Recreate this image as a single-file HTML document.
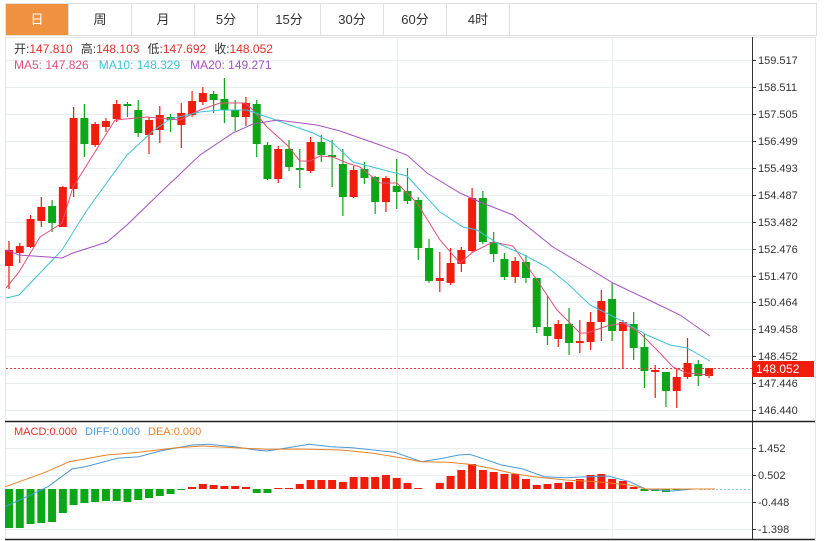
<!DOCTYPE html>
<html><head><meta charset="utf-8"><style>
body{margin:0;background:#fff;width:828px;height:541px;overflow:hidden;font-family:"Liberation Sans","Noto Sans CJK SC",sans-serif}
#tabs{position:absolute;left:5px;top:3px;height:32px;display:flex}
#tabs div{width:62px;height:31px;border:1px solid #e0e0e0;border-left:none;text-align:center;line-height:31px;font-size:13px;color:#333}
#tabs div:first-child{border-left:1px solid #e0e0e0;background:#f0913f;color:#fff;width:62px}
svg{position:absolute;left:0;top:0}
</style></head><body>
<div id="tabs"><div>日</div><div>周</div><div>月</div><div>5分</div><div>15分</div><div>30分</div><div>60分</div><div>4时</div><div style="width:306px"></div></div>
<svg id="s" width="828" height="541" xmlns="http://www.w3.org/2000/svg" font-family="Liberation Sans, Noto Sans CJK SC, sans-serif"></svg>
<script>
const s=document.getElementById('s');let h='';
h+='<line x1="5.5" y1="37" x2="5.5" y2="540" stroke="#e6e6e6"/>';
h+='<line x1="5" y1="37.5" x2="815" y2="37.5" stroke="#e6e6e6"/>';
h+='<line x1="815.5" y1="37" x2="815.5" y2="540" stroke="#e6e6e6"/>';
[397,612].forEach(x=>h+=`<line x1="${x}.5" y1="38" x2="${x}.5" y2="539" stroke="#e8eef2"/>`);
const pl=[[60,'159.517'],[87,'158.511'],[114,'157.505'],[141,'156.499'],[168,'155.493'],[195,'154.487'],[222,'153.482'],[249,'152.476'],[276,'151.470'],[302,'150.464'],[329,'149.458'],[356,'148.452'],[383,'147.446'],[410,'146.440']];
pl.forEach(([y,t])=>{h+=`<line x1="6" y1="${y}.5" x2="752" y2="${y}.5" stroke="#e8eef2"/><line x1="752" y1="${y}.5" x2="756" y2="${y}.5" stroke="#333"/><text x="758" y="${y+4}" font-size="11" fill="#333">${t}</text>`});
const ml=[[448,'1.452'],[475,'0.502'],[502,'-0.448'],[529,'-1.398']];
ml.forEach(([y,t])=>{h+=`<line x1="6" y1="${y}.5" x2="752" y2="${y}.5" stroke="#e8eef2"/><line x1="752" y1="${y}.5" x2="756" y2="${y}.5" stroke="#333"/><text x="758" y="${y+4}" font-size="11" fill="#333">${t}</text>`});
h+='<line x1="752.5" y1="37" x2="752.5" y2="540" stroke="#333"/>';
h+='<line x1="5" y1="421.5" x2="815" y2="421.5" stroke="#222" stroke-width="1.5"/>';
h+='<line x1="5" y1="539.5" x2="815" y2="539.5" stroke="#222" stroke-width="1.5"/>';
const C=[[1,250,266,241,289],[1,246,253,243,263],[1,219,247,215,248],[1,207,221,197,227],[0,206,223,200,232],[1,187,227,186,227],[1,118,189,107,197],[0,118,144,104,157],[1,124,145,122,147],[1,121,127,118,132],[1,104,119,100,122],[0,104,106,102,117],[0,110,133,100,137],[1,120,135,117,154],[1,115,130,106,143],[0,117,120,114,132],[1,113,125,103,148],[1,101,115,91,117],[1,93,102,87,105],[0,94,100,91,113],[0,99,110,78,123],[0,110,117,100,131],[1,103,117,97,126],[0,104,144,100,157],[0,145,179,142,180],[1,149,179,146,183],[0,149,167,140,171],[0,168,170,149,188],[1,142,171,137,173],[0,142,155,135,162],[0,155,157,140,187],[0,164,197,149,216],[1,170,197,166,198],[0,169,178,162,184],[0,177,202,176,214],[1,178,202,176,212],[0,186,192,159,209],[0,191,201,168,204],[0,200,248,197,260],[0,248,281,239,283],[1,278,281,252,292],[1,263,283,248,285],[1,250,264,247,272],[1,198,251,188,253],[0,198,242,191,244],[0,242,254,232,262],[0,259,277,253,280],[1,261,277,257,283],[0,262,278,255,283],[0,278,327,278,333],[0,327,336,296,345],[1,324,339,320,347],[0,324,343,308,355],[1,341,343,320,353],[1,322,342,312,350],[1,301,322,290,341],[0,299,331,283,341],[1,322,331,320,368],[0,324,348,312,360],[0,347,371,334,388],[1,370,372,365,398],[0,372,391,372,407],[1,377,391,368,408],[1,363,377,338,379],[0,364,376,360,386],[1,368,376,368,378]];
C.forEach((c,i)=>{const x=9+10.77*i;const col=c[0]?'#f01c0c':'#0ea619';
h+=`<line x1="${x}" y1="${c[3]}" x2="${x}" y2="${c[4]}" stroke="${col}" stroke-width="1.2"/><rect x="${x-4}" y="${c[1]}" width="8" height="${Math.max(2,c[2]-c[1])}" fill="${col}"/>`});
const poly=(p,c)=>`<polyline fill="none" stroke="${c}" stroke-width="1" points="${p.map(q=>q.join(',')).join(' ')}"/>`;
h+=poly([[6,288],[19,272],[40,237],[62,223],[73,187],[115,120],[147,117],[180,120],[200,110],[220,103],[245,103],[253,110],[267,127],[287,145],[300,161],[310,161],[320,156],[333,157],[347,163],[360,167],[380,183],[397,183],[417,203],[440,240],[460,263],[473,252],[493,242],[513,246],[537,280],[557,310],[580,333],[587,333],[607,326],[623,323],[640,333],[657,350],[673,367],[687,373],[710,375]],'#e0507a');
h+=poly([[6,298],[19,295],[62,250],[87,210],[127,155],[153,131],[170,119],[200,112],[220,110],[247,110],[267,117],[287,124],[313,133],[333,143],[353,162],[380,169],[407,176],[440,212],[463,227],[477,230],[497,243],[520,253],[547,267],[567,283],[590,305],[620,320],[647,335],[670,345],[687,348],[710,361]],'#3cc2d8');
h+=poly([[6,250],[19,255],[62,258],[73,253],[107,242],[127,225],[160,193],[200,155],[233,133],[253,124],[277,120],[317,125],[340,131],[380,145],[407,155],[427,173],[460,193],[480,202],[513,215],[553,247],[580,263],[613,283],[653,302],[680,315],[710,336]],'#a452c0');
h+='<line x1="6" y1="368.5" x2="752" y2="368.5" stroke="#e8332a" stroke-dasharray="2,2"/>';
h+='<rect x="752" y="361" width="62" height="16" fill="#f01c0c"/><text x="756" y="373" font-size="12" fill="#fff">148.052</text>';
h+='<text x="14" y="53" font-size="12"><tspan fill="#333">开:</tspan><tspan fill="#e0302a">147.810</tspan><tspan fill="#333" dx="8">高:</tspan><tspan fill="#e0302a">148.103</tspan><tspan fill="#333" dx="8">低:</tspan><tspan fill="#e0302a">147.692</tspan><tspan fill="#333" dx="8">收:</tspan><tspan fill="#e0302a">148.052</tspan></text>';
h+='<text x="14" y="69" font-size="12"><tspan fill="#e0507a">MA5: 147.826</tspan><tspan fill="#3cc2d8" dx="10">MA10: 148.329</tspan><tspan fill="#a452c0" dx="10">MA20: 149.271</tspan></text>';
h+='<text x="14" y="435" font-size="11"><tspan fill="#e0302a">MACD:0.000</tspan><tspan fill="#4a9ad8" dx="8">DIFF:0.000</tspan><tspan fill="#e8822a" dx="8">DEA:0.000</tspan></text>';
const B=[528,528,524,523,522,513,505,503,502,501,501,502,500,498,496,494,490,
487,484,485,486,486,487,493,493,488,488,484,480,480,480,482,477,477,477,475,478,483,488,null,483,476,470,464,470,472,474,474,479,485,484,483,482,479,475,474,479,481,487,491,491,492,490];
B.forEach((y,i)=>{if(y===null)return;const x=9+10.77*i;const up=y<489;const col=up?'#f01c0c':'#0ea619';const t=Math.min(y,489),hh=Math.max(1,Math.abs(y-489));h+=`<rect x="${x-4}" y="${t}" width="8" height="${hh}" fill="${col}"/>`});
h+='<line x1="700" y1="489.5" x2="752" y2="489.5" stroke="#8cc8e0" stroke-dasharray="2,2"/>';
const conv=p=>p.map(([x,y])=>[(x*0.5335).toFixed(1),(415+y/3).toFixed(1)]);
h+=poly(conv([[10,275],[50,245],[90,215],[135,162],[160,155],[220,130],[260,125],[300,108],[360,90],[390,88],[440,95],[480,105],[500,108],[540,98],[580,88],[620,95],[660,98],[700,105],[740,112],[790,140],[830,130],[860,120],[880,118],[900,128],[940,150],[980,162],[1020,185],[1060,188],[1100,185],[1140,183],[1180,200],[1210,222],[1260,228],[1300,222],[1340,222]]),'#4a9ad8');
h+=poly(conv([[10,215],[80,175],[130,140],[200,120],[260,112],[330,98],[380,93],[440,98],[500,103],[560,102],[640,105],[700,115],[750,128],[790,140],[840,142],[880,148],[920,160],[960,175],[1000,185],[1060,195],[1120,200],[1180,210],[1210,222],[1340,222]]),'#e8822a');
s.innerHTML=h;
</script>
</body></html>
